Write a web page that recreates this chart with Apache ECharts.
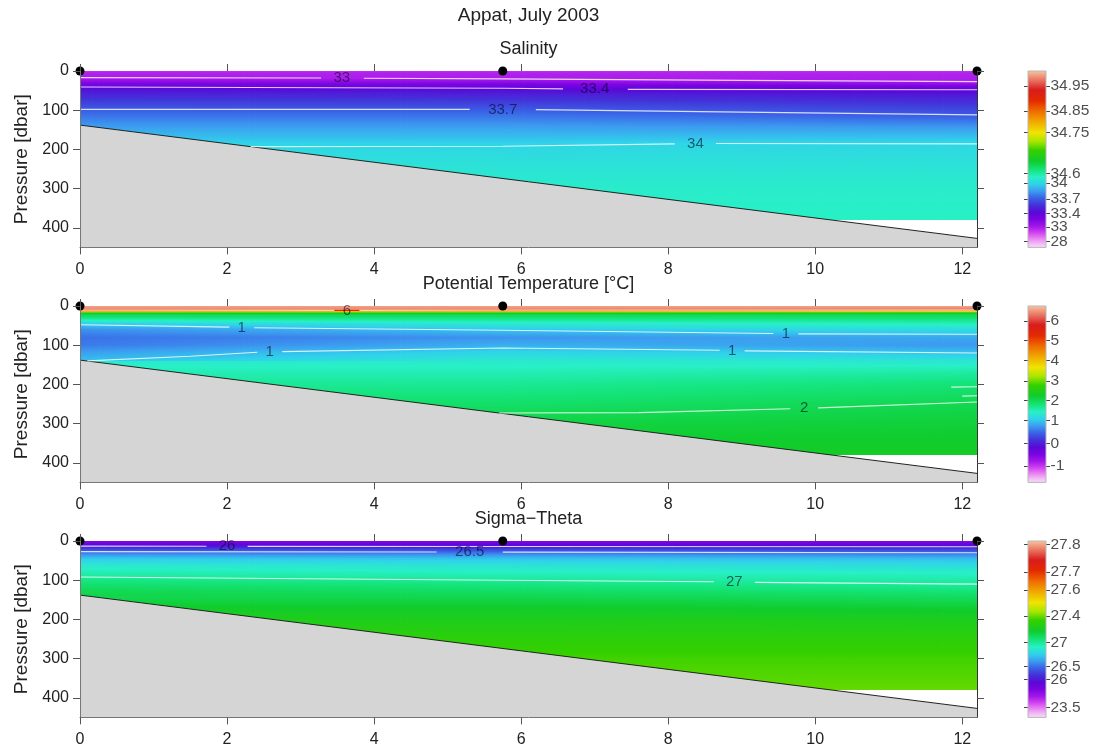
<!DOCTYPE html>
<html>
<head>
<meta charset="utf-8">
<script src="https://cdn.jsdelivr.net/npm/echarts@6/dist/echarts.min.js"></script>
<style>
  html, body { margin: 0; padding: 0; background: #fff; }
  #chart { width: 1099px; height: 750px; }
</style>
</head>
<body>
<div id="chart"></div>
<script>
// ---- Section data: Appat, July 2003 ----
const stationDistance = [0, 5.75, 12.2];                 // km along section
const seafloorDistance = [0, 12.2];
const seafloorPressure = [138, 427];                     // dbar
const pressureLevels = [0, 3, 6, 10, 13, 18, 22, 30, 45, 60, 80, 100, 120, 140, 170, 200, 250, 300, 380];

const salinityStationA = [31.8, 32.6, 32.8, 32.9, 32.95, 33.01, 33.07, 33.2, 33.44, 33.53, 33.62, 33.71, 33.78, 33.85, null, null, null, null, null];
const salinityStationB = [31.8, 32.6, 32.8, 32.88, 32.93, 32.98, 33.03, 33.17, 33.41, 33.52, 33.61, 33.71, 33.78, 33.85, 33.94, 34.04, 34.2, 34.32, 34.4];
const salinityStationC = [31.8, 32.5, 32.7, 32.8, 32.86, 32.92, 32.96, 33.05, 33.36, 33.48, 33.57, 33.65, 33.73, 33.83, 33.95, 34.06, 34.2, 34.32, 34.4];

const temperatureStationA = [6.55, 6.5, 6.45, 6.35, 4.5, 2.3, 2.0, 1.75, 1.08, 0.72, 0.55, 0.6, 0.8, 0.98, null, null, null, null, null];
const temperatureStationB = [6.55, 6.5, 6.45, 6.35, 4.5, 2.3, 2.0, 1.8, 1.35, 1.03, 0.72, 0.88, 1.15, 1.35, 1.52, 1.66, 1.88, 2.1, 2.3];
const temperatureStationC = [6.55, 6.5, 6.4, 6.2, 4.2, 2.3, 2.0, 1.85, 1.5, 1.2, 0.85, 0.75, 1.0, 1.3, 1.6, 1.8, 2.02, 2.15, 2.3];

const sigmaStationA = [25.0, 25.2, 25.45, 25.8, 26.0, 26.2, 26.33, 26.53, 26.74, 26.86, 26.95, 27.03, 27.09, 27.13, null, null, null, null, null];
const sigmaStationB = [25.0, 25.2, 25.45, 25.78, 25.95, 26.17, 26.3, 26.52, 26.72, 26.83, 26.92, 27.0, 27.06, 27.11, 27.18, 27.24, 27.3, 27.35, 27.39];
const sigmaStationC = [25.0, 25.2, 25.45, 25.75, 25.93, 26.15, 26.28, 26.5, 26.7, 26.8, 26.9, 26.97, 27.02, 27.08, 27.16, 27.23, 27.3, 27.35, 27.39];

// Colour-scale breaks: each level and its place (0 = bottom, 1 = top) on the colour ramp
const salinityLevels = [28, 33, 33.4, 33.7, 34, 34.6, 34.75, 34.85, 34.95];
const salinityRampIndex = [0.035, 0.115, 0.193, 0.275, 0.365, 0.42, 0.65, 0.774, 0.916];
const temperatureLevels = [-1, 0, 1, 2, 3, 4, 5, 6];
const temperatureRampIndex = [0.094, 0.22, 0.35, 0.465, 0.575, 0.69, 0.805, 0.915];
const sigmaLevels = [23.5, 26, 26.5, 27, 27.4, 27.6, 27.7, 27.8];
const sigmaRampIndex = [0.056, 0.214, 0.29, 0.424, 0.574, 0.722, 0.825, 0.98];

// Contour lines (distance, pressure), split where their labels sit
const salinityContours = [
  { level: 33,   pieces: [[[0, 17], [3.28, 18]], [[3.86, 18.5], [5.75, 20], [9, 24], [12.2, 27]]], labels: [[3.56, 18]] },
  { level: 33.4, pieces: [[[0, 41], [5.75, 44], [6.57, 45.5]], [[7.45, 47], [12.2, 48]]], labels: [[7.0, 46.5]] },
  { level: 33.7, pieces: [[[0, 98], [5.3, 98]], [[6.2, 98.5], [9, 105], [12.2, 112]]], labels: [[5.75, 98]] },
  { level: 34,   pieces: [[[2.32, 193], [5.75, 192], [8.09, 186]], [[8.65, 185], [12.2, 186]]], labels: [[8.37, 185]] }
];
const temperatureContours = [
  { level: 6, pieces: [[[0, 11], [3.46, 11.2]], [[3.8, 11.2], [5.75, 11], [12.2, 10.5]]], labels: [[3.63, 12.5]] },
  { level: 1, pieces: [[[0, 48], [2.03, 54]], [[2.37, 55.5], [5.75, 62], [9.43, 70]], [[9.77, 71], [12.2, 72]]], labels: [[2.2, 55], [9.6, 70.5]] },
  { level: 1, pieces: [[[0.1, 140], [1.5, 128], [2.41, 118]], [[2.75, 116.5], [5.75, 107], [8.7, 113]], [[9.04, 114.5], [12.2, 120]]], labels: [[2.58, 117], [8.87, 114]] },
  { level: 2, pieces: [[[5.7, 273], [7.6, 272], [9.66, 262]], [[10.04, 260], [12.2, 245]]], labels: [[9.85, 261]] },
  { level: 2, pieces: [[[11.85, 207], [12.2, 206]]], labels: [] },
  { level: 2, pieces: [[[12.0, 230], [12.2, 229]]], labels: [] }
];
const sigmaContours = [
  { level: 26,   pieces: [[[0, 13], [1.72, 13.5]], [[2.28, 13.8], [5.75, 14], [12.2, 14.5]]], labels: [[2.0, 13.5]] },
  { level: 26.5, pieces: [[[0, 27], [4.85, 28]], [[5.75, 28.5], [12.2, 30]]], labels: [[5.3, 28]] },
  { level: 27,   pieces: [[[0, 92], [5.75, 100], [8.62, 104]], [[9.18, 105.5], [12.2, 110]]], labels: [[8.9, 105]] }
];

const distanceTicks = [0, 2, 4, 6, 8, 10, 12];
const pressureTicks = [0, 100, 200, 300, 400];

// ---- Colour ramp ----
const ramp = [
  [0.00, '#f8e0f8'], [0.03, '#f0b0f4'], [0.06, '#e474f2'], [0.09, '#cc3cf0'],
  [0.12, '#a418ea'], [0.16, '#7c04e2'], [0.20, '#5a08d8'], [0.24, '#4430d8'],
  [0.28, '#3a60e6'], [0.32, '#3c9cf0'], [0.36, '#30d2ea'], [0.40, '#28f0c6'],
  [0.44, '#14e47a'], [0.49, '#10cc2c'], [0.55, '#34d000'], [0.60, '#a8e600'],
  [0.65, '#f0e400'], [0.71, '#f0aa00'], [0.77, '#f06c00'], [0.83, '#e42a00'],
  [0.89, '#d81c1c'], [0.94, '#e86a5a'], [1.00, '#f8c8a0']
];
const rampRgb = ramp.map(([t, c]) => [t, parseInt(c.slice(1, 3), 16), parseInt(c.slice(3, 5), 16), parseInt(c.slice(5, 7), 16)]);

function rampColour(t) {
  t = Math.min(1, Math.max(0, t));
  let i = 0;
  while (i < rampRgb.length - 2 && t > rampRgb[i + 1][0]) i++;
  const a = rampRgb[i], b = rampRgb[i + 1];
  const f = (t - a[0]) / (b[0] - a[0]);
  const r = Math.round(a[1] + (b[1] - a[1]) * f);
  const g = Math.round(a[2] + (b[2] - a[2]) * f);
  const bl = Math.round(a[3] + (b[3] - a[3]) * f);
  return 'rgb(' + r + ',' + g + ',' + bl + ')';
}

function rampPosition(v, levels, index) {
  const n = levels.length;
  let i = 0;
  if (v >= levels[n - 1]) i = n - 2;
  else if (v > levels[0]) { while (v > levels[i + 1]) i++; }
  return index[i] + (index[i + 1] - index[i]) * (v - levels[i]) / (levels[i + 1] - levels[i]);
}

// Linear interpolation of one station profile in pressure
function profileAt(values, p) {
  let prev = -1;
  for (let i = 0; i < pressureLevels.length; i++) {
    if (values[i] == null) continue;
    if (pressureLevels[i] === p) return values[i];
    if (pressureLevels[i] > p) {
      if (prev < 0) return values[i];
      const p0 = pressureLevels[prev], p1 = pressureLevels[i];
      return values[prev] + (values[i] - values[prev]) * (p - p0) / (p1 - p0);
    }
    prev = i;
  }
  return null;
}

const FONT = '"Liberation Sans", Arial, Helvetica, sans-serif';
const TEXT = '#222';
const panelTop = [71, 306, 541];
const panelH = 176.4;
const plotLeft = 80, plotW = 897;
const barLeft = 1028, barW = 18;

const panels = [
  { title: 'Salinity', profiles: [salinityStationA, salinityStationB, salinityStationC],
    levels: salinityLevels, index: salinityRampIndex, contours: salinityContours },
  { title: 'Potential Temperature [\u00B0C]', profiles: [temperatureStationA, temperatureStationB, temperatureStationC],
    levels: temperatureLevels, index: temperatureRampIndex, contours: temperatureContours },
  { title: 'Sigma\u2212Theta', profiles: [sigmaStationA, sigmaStationB, sigmaStationC],
    levels: sigmaLevels, index: sigmaRampIndex, contours: sigmaContours }
];

const grid = [], xAxis = [], yAxis = [], series = [], graphic = [];

panels.forEach((pn, g) => {
  grid.push({ left: plotLeft, top: panelTop[g], width: plotW, height: panelH });
});
panels.forEach((pn, g) => {
  grid.push({ left: barLeft, top: panelTop[g], width: barW, height: panelH });
});

const tickStyle = { color: '#555', width: 1 };

panels.forEach((pn, g) => {
  // x axes: bottom (2g), top (2g+1)
  xAxis.push({
    gridIndex: g, type: 'value', min: 0, max: 12.2, position: 'bottom', z: 10,
    axisLine: { show: true, onZero: false, lineStyle: { color: '#777', width: 1 } },
    axisTick: { show: true, customValues: distanceTicks, length: 7, lineStyle: tickStyle },
    axisLabel: { customValues: distanceTicks, margin: 14, fontSize: 16, color: TEXT, fontFamily: FONT },
    splitLine: { show: false }
  });
  xAxis.push({
    gridIndex: g, type: 'value', min: 0, max: 12.2, position: 'top', z: 10,
    axisLine: { show: false, onZero: false },
    axisTick: { show: true, customValues: distanceTicks, length: 7, lineStyle: tickStyle },
    axisLabel: { show: false }, splitLine: { show: false }
  });
  // y axes: left (2g), right (2g+1)
  yAxis.push({
    gridIndex: g, type: 'value', min: 0, max: 450, inverse: true, position: 'left', z: 10,
    name: 'Pressure [dbar]', nameLocation: 'middle', nameRotate: 90, nameGap: 42,
    nameTextStyle: { fontSize: 19, color: TEXT, fontFamily: FONT },
    axisLine: { show: true, onZero: false, lineStyle: { color: '#777', width: 1 } },
    axisTick: { show: true, customValues: pressureTicks, length: 7, lineStyle: tickStyle },
    axisLabel: { customValues: pressureTicks, margin: 11, fontSize: 16, color: TEXT, fontFamily: FONT },
    splitLine: { show: false }
  });
  yAxis.push({
    gridIndex: g, type: 'value', min: 0, max: 450, inverse: true, position: 'right', z: 10,
    axisLine: { show: true, onZero: false, lineStyle: { color: '#333', width: 1 } },
    axisTick: { show: true, customValues: pressureTicks, length: 7, lineStyle: tickStyle },
    axisLabel: { show: false }, splitLine: { show: false }
  });
});

panels.forEach((pn, c) => {
  xAxis.push({ gridIndex: 3 + c, type: 'value', min: 0, max: 1, show: false });
  yAxis.push({
    gridIndex: 3 + c, type: 'value', min: 0, max: 1, position: 'right',
    axisLine: { show: false, onZero: false },
    axisTick: { show: true, customValues: pn.index, length: 4, lineStyle: { color: '#444' } },
    axisLabel: { show: false }, splitLine: { show: false }
  });
  yAxis.push({
    gridIndex: 3 + c, type: 'value', min: 0, max: 1, position: 'left',
    axisLine: { show: false, onZero: false },
    axisTick: { show: true, customValues: pn.index, length: 4, lineStyle: { color: '#444' } },
    axisLabel: { show: false }, splitLine: { show: false }
  });
});

const pDeep = pressureLevels[pressureLevels.length - 1];

panels.forEach((pn, g) => {
  const xi = 2 * g, yi = 2 * g;
  // shaded field between neighbouring stations
  const segments = stationDistance.slice(1).map((x, i) => [stationDistance[i], x, i]);
  series.push({
    type: 'custom', xAxisIndex: xi, yAxisIndex: yi, z: 1, silent: true,
    data: segments,
    renderItem: (params, api) => {
      const x0 = api.value(0), x1 = api.value(1), i = api.value(2);
      const A = pn.profiles[i], B = pn.profiles[i + 1];
      const strips = 70;
      const children = [];
      for (let k = 0; k < strips; k++) {
        const xa = x0 + (x1 - x0) * k / strips;
        const xb = x0 + (x1 - x0) * (k + 1) / strips;
        const f = (k + 0.5) / strips;
        const stops = [];
        for (let p = 0; p <= pDeep; p += 1) {
          let va = profileAt(A, p), vb = profileAt(B, p);
          if (va == null) va = vb;
          if (vb == null) vb = va;
          const v = va + (vb - va) * f;
          stops.push({ offset: p / pDeep, color: rampColour(rampPosition(v, pn.levels, pn.index)) });
        }
        const tl = api.coord([xa, 0]), br = api.coord([xb, pDeep]);
        const last = (i === segments.length - 1 && k === strips - 1);
        children.push({
          type: 'rect',
          shape: { x: tl[0], y: tl[1], width: br[0] - tl[0] + (last ? 0 : 0.8), height: br[1] - tl[1] },
          style: { fill: new echarts.graphic.LinearGradient(0, 0, 0, 1, stops) }
        });
      }
      return { type: 'group', children };
    }
  });
  // sea floor
  series.push({
    type: 'line', xAxisIndex: xi, yAxisIndex: yi, z: 3, silent: true, symbol: 'none',
    data: seafloorDistance.map((x, i) => [x, seafloorPressure[i]]),
    lineStyle: { color: '#222', width: 1 },
    areaStyle: { color: '#d5d5d5', opacity: 1, origin: 'end' }
  });
  // contour lines
  pn.contours.forEach(ct => {
    ct.pieces.forEach(piece => {
      series.push({
        type: 'line', xAxisIndex: xi, yAxisIndex: yi, z: 4, silent: true, symbol: 'none',
        data: piece, lineStyle: { color: 'rgba(255,255,255,0.8)', width: 1.1 }
      });
    });
  });
  // contour labels
  const labelData = [];
  pn.contours.forEach(ct => ct.labels.forEach(pt => labelData.push([pt[0], pt[1], ct.level])));
  series.push({
    type: 'scatter', xAxisIndex: xi, yAxisIndex: yi, z: 5, silent: true,
    symbolSize: 1, itemStyle: { color: 'rgba(0,0,0,0)' },
    data: labelData,
    label: { show: true, position: 'inside', formatter: p => String(p.value[2]),
      fontSize: 15, fontFamily: FONT, color: 'rgba(0,0,30,0.72)' }
  });
  // stations
  series.push({
    type: 'scatter', xAxisIndex: xi, yAxisIndex: yi, z: 6, clip: false, silent: true,
    symbolSize: 9, itemStyle: { color: '#000', opacity: 1 },
    data: stationDistance.map(x => [x, 0])
  });
  // colour bar
  series.push({
    type: 'custom', xAxisIndex: 6 + g, yAxisIndex: 6 + 2 * g, z: 2, silent: true,
    data: [[0, 0, 1, 1]],
    renderItem: (params, api) => {
      const tl = api.coord([api.value(0), api.value(3)]);
      const br = api.coord([api.value(2), api.value(1)]);
      const stops = rampRgb.slice().reverse().map(r => ({ offset: 1 - r[0], color: 'rgb(' + r[1] + ',' + r[2] + ',' + r[3] + ')' }));
      return {
        type: 'rect',
        shape: { x: tl[0], y: tl[1], width: br[0] - tl[0], height: br[1] - tl[1] },
        style: { fill: new echarts.graphic.LinearGradient(0, 0, 0, 1, stops), stroke: '#b8b8b8', lineWidth: 1 }
      };
    }
  });
  // colour bar level labels
  series.push({
    type: 'scatter', xAxisIndex: 6 + g, yAxisIndex: 6 + 2 * g, z: 3, silent: true, clip: false,
    symbolSize: 1, itemStyle: { color: 'rgba(0,0,0,0)' },
    data: pn.index.map((t, k) => [1, t, pn.levels[k]]),
    label: { show: true, position: 'right', distance: 4, formatter: p => String(p.value[2]),
      fontSize: 15.5, fontFamily: FONT, color: TEXT }
  });
  graphic.push({
    type: 'text', x: plotLeft + plotW / 2, y: panelTop[g] - 22,
    style: { text: pn.title, fontSize: 18, fontFamily: FONT, fill: TEXT, align: 'center', verticalAlign: 'middle' }
  });
});

graphic.push({
  type: 'text', x: plotLeft + plotW / 2, y: 16,
  style: { text: 'Appat, July 2003', fontSize: 19, fontFamily: FONT, fill: TEXT, align: 'center', verticalAlign: 'middle' }
});

const chart = echarts.init(document.getElementById('chart'), null, { renderer: 'canvas' });
chart.setOption({
  backgroundColor: '#fff',
  animation: false,
  grid, xAxis, yAxis, series, graphic
});
</script>
</body>
</html>
